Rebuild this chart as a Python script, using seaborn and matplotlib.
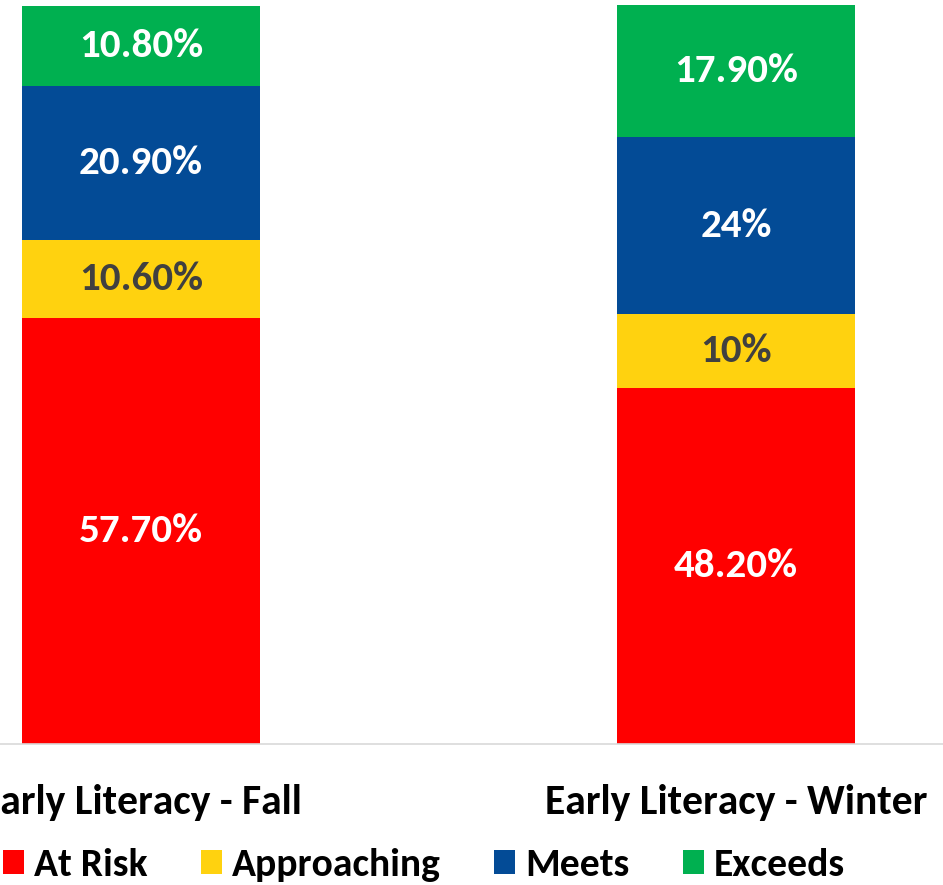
import numpy as np
import matplotlib
matplotlib.use("Agg")
import matplotlib.pyplot as plt
from matplotlib import font_manager
from matplotlib.patches import Patch
import seaborn as sns

categories = ["Early Literacy - Fall", "Early Literacy - Winter"]
series = ["At Risk", "Approaching", "Meets", "Exceeds"]
at_risk = [57.7, 48.2]
approaching = [10.6, 10.0]
meets = [20.9, 24.0]
exceeds = [10.8, 17.9]
labels = {
    "At Risk": ["57.70%", "48.20%"],
    "Approaching": ["10.60%", "10%"],
    "Meets": ["20.90%", "24%"],
    "Exceeds": ["10.80%", "17.90%"],
}

colors = ["#FF0000", "#FFD20F", "#034B96", "#00B050"]
label_colors = ["white", "#404040", "white", "white"]

sns.set_theme(style="white")
installed = {f.name for f in font_manager.fontManager.ttflist}
font = "Carlito" if "Carlito" in installed else "Lato"
plt.rcParams["font.family"] = [font, "DejaVu Sans"]
plt.rcParams["font.weight"] = "bold"

fig = plt.figure(figsize=(9.43, 8.85), dpi=100)
ax = fig.add_axes([0, 141 / 885, 1, 744 / 885])

bottom = np.zeros(len(categories))
for name, vals, col, lcol in zip(series, [at_risk, approaching, meets, exceeds], colors, label_colors):
    sns.barplot(x=categories, y=vals, bottom=bottom, color=col, width=0.4, saturation=1,
                errorbar=None, linewidth=0, edgecolor="none", ax=ax)
    ax.bar_label(ax.containers[-1], labels=labels[name], label_type="center",
                 color=lcol, fontsize=29.5, fontweight="bold")
    bottom = bottom + np.array(vals)

ax.set_xlim(-141 / 595, 802 / 595)
ax.set_ylim(0, 100 * 744 / 738)
ax.set_yticks([])
ax.set_xticks([0, 1])
ax.set_xticklabels(categories, fontsize=30, fontweight="bold", color="black")
ax.tick_params(axis="x", length=0, pad=29)
ax.set_xlabel("")
for s in ["top", "left", "right"]:
    ax.spines[s].set_visible(False)
ax.spines["bottom"].set_color("#D9D9D9")
ax.spines["bottom"].set_linewidth(1.2)

handles = [Patch(facecolor=c, edgecolor="none", label=s) for s, c in zip(series, colors)]
fig.legend(handles=handles, loc="center left", bbox_to_anchor=(3 / 943, 20 / 885),
           ncol=4, frameon=False, prop={"weight": "bold", "size": 28.5}, labelcolor="black",
           handlelength=0.53, handleheight=0.53, handletextpad=0.25, columnspacing=1.35,
           borderpad=0, borderaxespad=0)

fig.savefig("out.png", dpi=100)
